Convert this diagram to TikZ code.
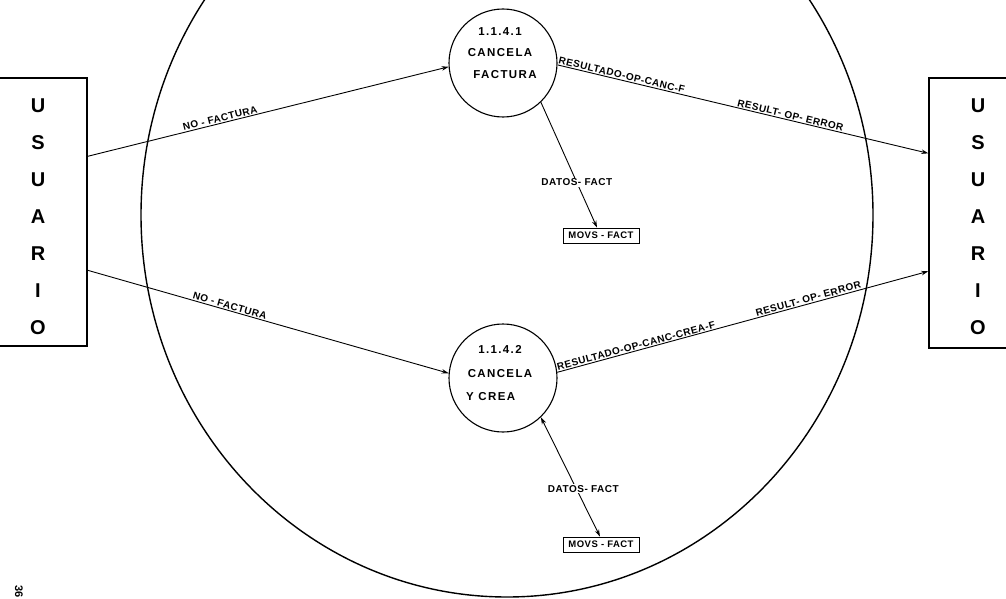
\documentclass[tikz,border=0pt]{standalone}
\usepackage{fontspec}
\setmainfont{Liberation Sans}
\newfontfamily\procfont[LetterSpace=12]{Liberation Sans}
\newfontfamily\flowfont[LetterSpace=5]{Liberation Sans}
\usetikzlibrary{arrows.meta,shapes.geometric}
\begin{document}
\begin{tikzpicture}[x=1pt,y=-1pt,
  flow/.style={line width=0.9pt,-{Stealth[length=7pt,width=4.5pt]}},
  twoway/.style={line width=0.9pt,{Stealth[length=7pt,width=4.5pt]}-{Stealth[length=7pt,width=4.5pt]}},
  proc/.style={circle,draw,line width=1.1pt,minimum size=108pt,inner sep=0pt},
  ent/.style={draw,line width=1.4pt,inner sep=0pt},
  store/.style={draw,line width=0.9pt,minimum width=76pt,minimum height=15pt,inner sep=0pt,
    font=\flowfont\bfseries\fontsize{9.5}{10}\selectfont},
  lbl/.style={font=\flowfont\bfseries\fontsize{10}{11}\selectfont,inner sep=1pt},
  ptxt/.style={font=\procfont\bfseries\fontsize{11.5}{13}\selectfont,inner sep=0pt},
  letters/.style={font=\bfseries\fontsize{20}{37}\selectfont,align=center,inner sep=0pt}]
\useasboundingbox (0,0) rectangle (1006,599);

% system boundary
\node[ellipse,draw,line width=1.4pt,minimum width=732pt,minimum height=764pt,inner sep=0pt] (sys) at (507,215) {};

% external entities
\node[ent,minimum width=110pt,minimum height=268pt] (u1) at (32,212) {};
\node[ent,minimum width=110pt,minimum height=270pt] (u2) at (984,213) {};
\node[letters] (t1) at (38,216.5) {U\\S\\U\\A\\R\\I\\O};
\node[letters] (t2) at (978,216.5) {U\\S\\U\\A\\R\\I\\O};

% processes
\node[proc] (p1) at (503,63) {};
\node[ptxt] (p1a) at (500,32) {1.1.4.1};
\node[ptxt] (p1b) at (500,53) {CANCELA};
\node[ptxt] (p1c) at (505,75) {FACTURA};

\node[proc] (p2) at (503,378) {};
\node[ptxt] (p2a) at (500,349) {1.1.4.2};
\node[ptxt] (p2b) at (500,374) {CANCELA};
\node[ptxt,anchor=west] (p2c) at (466,397) {Y CREA};

% data stores
\node[store] (m1) at (601,235.5) {MOVS - FACT};
\node[store] (m2) at (601,544.5) {MOVS - FACT};

% flows
\draw[flow] ([yshift=-79pt]u1.north east) -- (p1.184)
  node[lbl,pos=0.37,sloped,above] {NO - FACTURA};
\draw[flow] ([yshift=-193pt]u1.north east) -- (p2.175)
  node[lbl,pos=0.39,sloped,above] {NO - FACTURA};

\draw[flow] (p1.314) -- ([xshift=-4pt]m1.north)
  node[lbl,pos=0.64,fill=white] {DATOS- FACT};
\draw[twoway] (p2.314) -- ([xshift=-1pt]m2.north)
  node[lbl,pos=0.6,xshift=7pt,fill=white] {DATOS- FACT};

\draw[flow] (p1.358) -- ([yshift=-76pt]u2.north west)
  node[lbl,pos=0.17,sloped,above] {RESULTADO-OP-CANC-F}
  node[lbl,pos=0.625,sloped,above] {RESULT- OP- ERROR};
\draw[flow] (p2.6) -- ([yshift=-194pt]u2.north west)
  node[lbl,pos=0.216,sloped,above] {RESULTADO-OP-CANC-CREA-F}
  node[lbl,pos=0.68,sloped,above] {RESULT- OP- ERROR};

% page number
\node[rotate=-90,anchor=west,font=\bfseries\fontsize{11}{12}\selectfont,inner sep=0pt] (pg) at (19,585) {36};
\end{tikzpicture}
\end{document}
